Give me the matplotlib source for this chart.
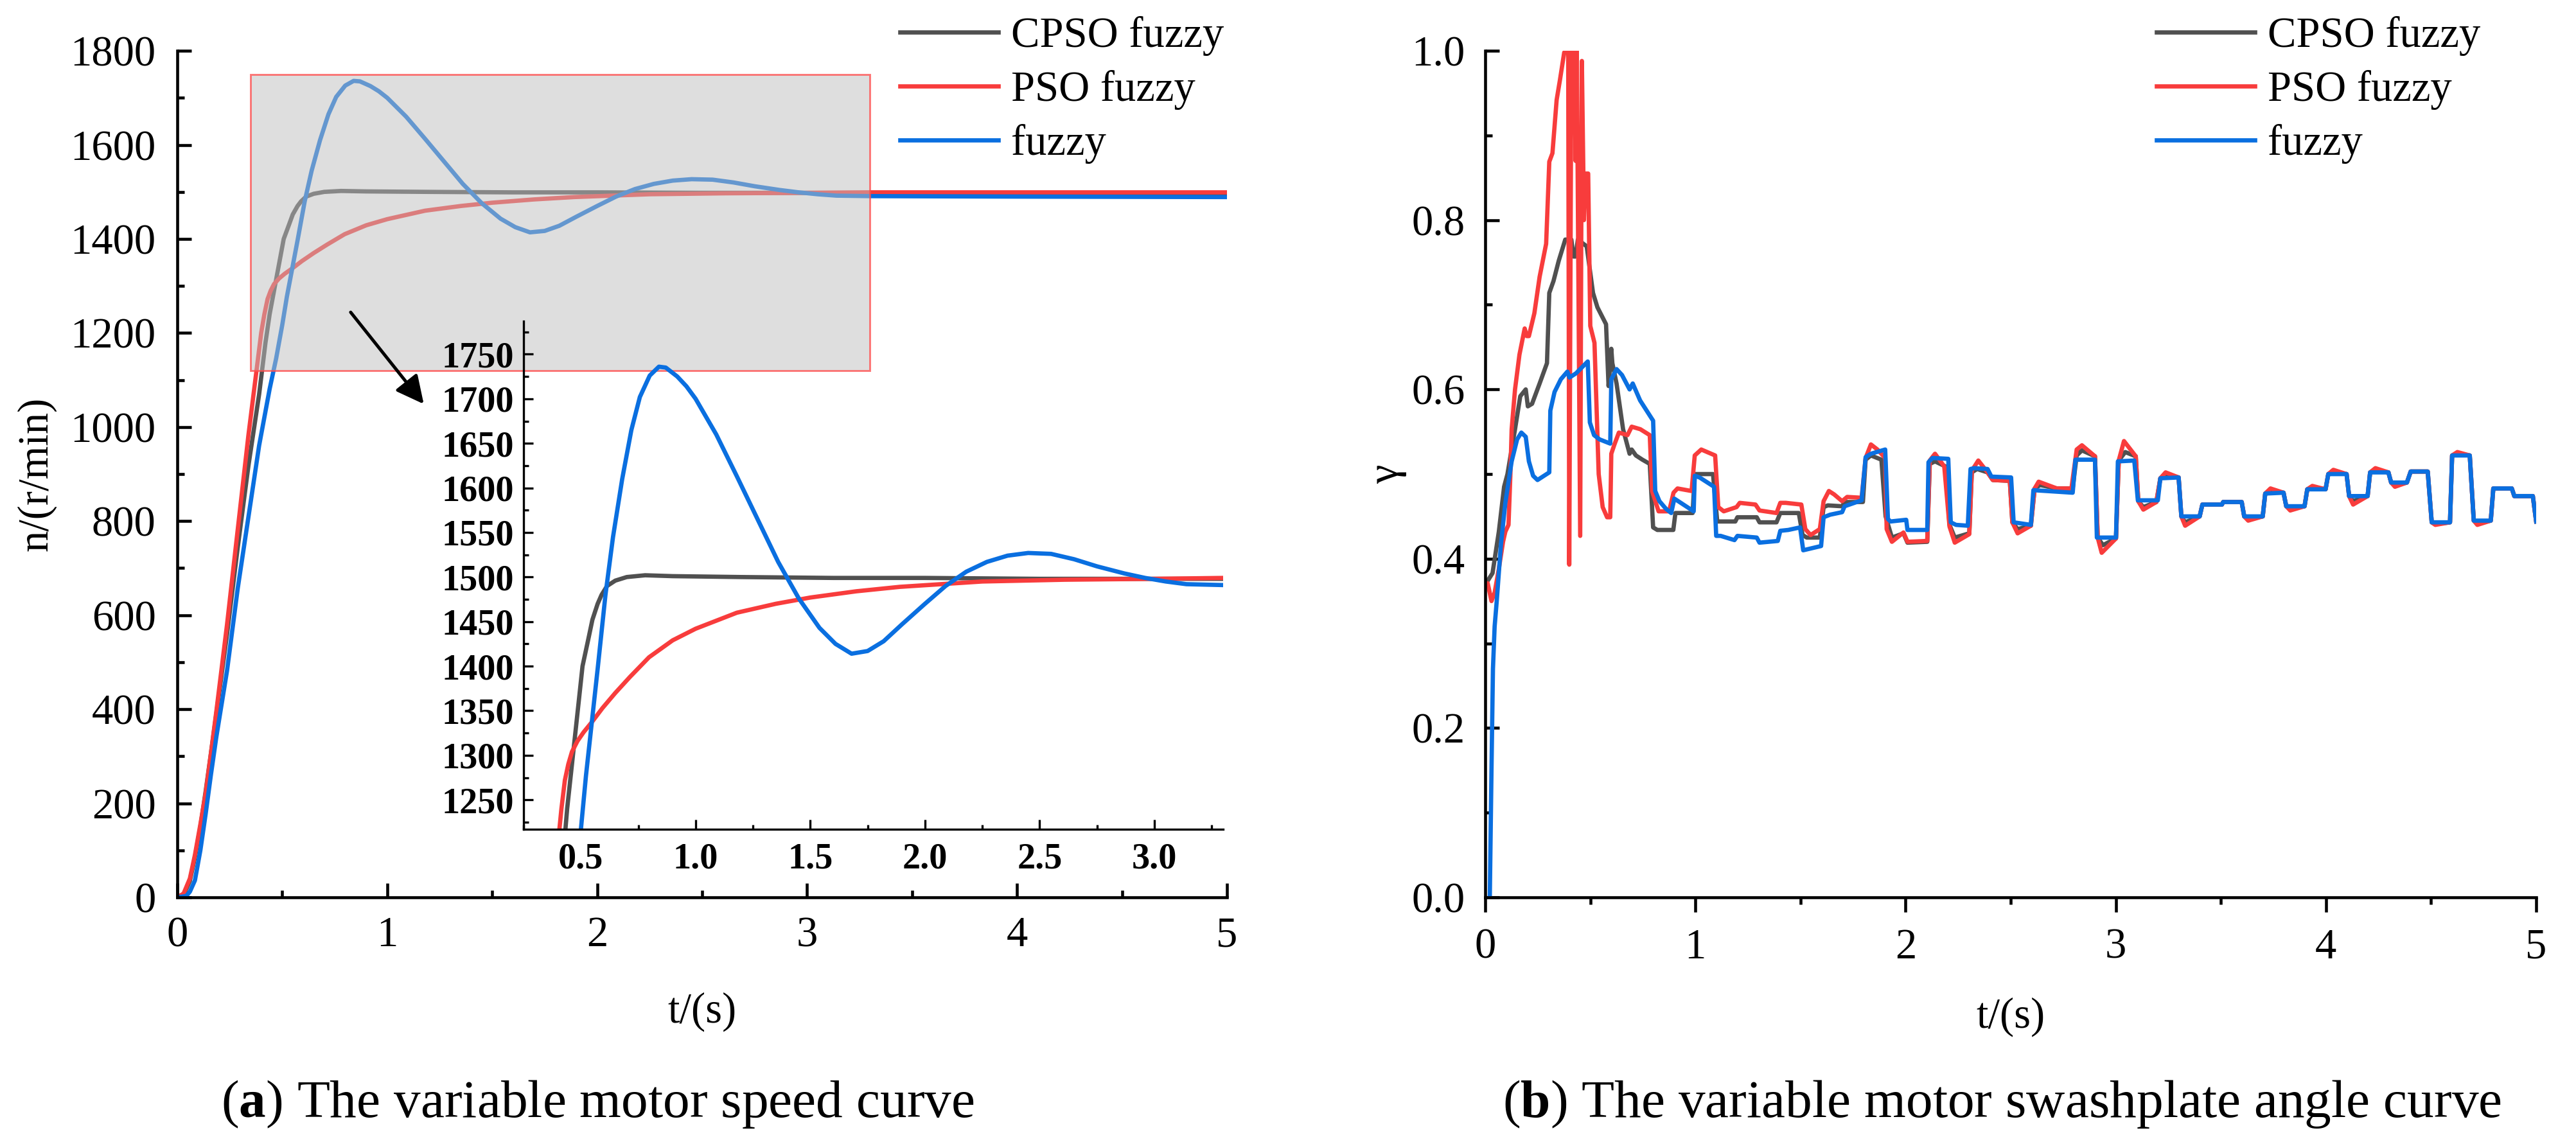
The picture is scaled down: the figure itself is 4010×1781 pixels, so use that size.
import numpy as np
import matplotlib

matplotlib.use("Agg")
import matplotlib.pyplot as plt
from matplotlib.patches import Rectangle
from matplotlib.ticker import MultipleLocator

plt.rcParams["font.family"] = ["Liberation Serif", "DejaVu Serif"]
plt.rcParams["mathtext.fontset"] = "custom"
plt.rcParams["mathtext.rm"] = "Liberation Serif"
plt.rcParams["mathtext.bf"] = "Liberation Serif:bold"

SERIES = ["CPSO fuzzy", "PSO fuzzy", "fuzzy"]
COLORS = ["#505050", "#f83c3c", "#0a6fe0"]

# (t [s], n [r/min])
SPEED_CPSO = [
    (0, 0), (0.03, 5), (0.06, 35), (0.084, 85), (0.11, 150), (0.135, 225),
    (0.16, 305), (0.186, 390), (0.237, 560), (0.288, 744), (0.339, 918),
    (0.39, 1070), (0.42, 1179), (0.44, 1240), (0.461, 1290), (0.492, 1364),
    (0.507, 1400), (0.532, 1430), (0.55, 1452), (0.573, 1470), (0.59, 1480),
    (0.614, 1490), (0.65, 1496), (0.7, 1500), (0.78, 1502), (0.9, 1501),
    (1.2, 1500), (1.6, 1499), (2.0, 1499), (2.5, 1498), (3.0, 1498),
    (3.3, 1498), (4.0, 1497), (5.0, 1496),
]
SPEED_PSO = [
    (0, 0), (0.03, 8), (0.06, 40), (0.084, 90), (0.11, 155), (0.135, 221),
    (0.16, 305), (0.186, 395), (0.237, 580), (0.288, 782), (0.339, 983),
    (0.374, 1108), (0.40, 1201), (0.415, 1240), (0.43, 1272), (0.445, 1290),
    (0.461, 1304), (0.485, 1316), (0.512, 1326), (0.55, 1338), (0.594, 1353),
    (0.65, 1370), (0.714, 1388), (0.797, 1410), (0.9, 1429), (1.0, 1442),
    (1.18, 1460), (1.35, 1470), (1.5, 1477), (1.7, 1484), (1.89, 1489),
    (2.25, 1495), (2.61, 1497), (3.0, 1498), (3.3, 1499), (4.0, 1499),
    (5.0, 1499),
]
SPEED_FUZZY = [
    (0, 0), (0.043, 3), (0.06, 12), (0.084, 36), (0.11, 100), (0.135, 177),
    (0.16, 260), (0.186, 341), (0.237, 482), (0.288, 657), (0.339, 809),
    (0.39, 961), (0.44, 1081), (0.471, 1146), (0.50, 1217), (0.522, 1277),
    (0.573, 1397), (0.607, 1480), (0.64, 1545), (0.68, 1610), (0.72, 1665),
    (0.757, 1702), (0.8, 1726), (0.84, 1736), (0.87, 1735), (0.92, 1725),
    (0.96, 1714), (1.0, 1700), (1.09, 1660), (1.18, 1613), (1.27, 1565),
    (1.36, 1517), (1.45, 1476), (1.54, 1443), (1.61, 1425), (1.68, 1414),
    (1.75, 1417), (1.82, 1428), (1.9, 1447), (2.0, 1470), (2.09, 1490),
    (2.18, 1506), (2.27, 1517), (2.36, 1524), (2.45, 1527), (2.55, 1526),
    (2.65, 1520), (2.75, 1512), (2.87, 1504), (2.96, 1499), (3.05, 1495),
    (3.14, 1492), (3.3, 1491), (4.0, 1490), (5.0, 1489),
]

# (t [s], gamma)
GAMMA_CPSO = [
    (0.005, 0.37), (0.012, 0.374), (0.035, 0.383), (0.065, 0.432),
    (0.09, 0.485), (0.106, 0.5), (0.142, 0.553), (0.167, 0.592),
    (0.193, 0.6), (0.203, 0.58), (0.223, 0.583), (0.259, 0.607),
    (0.294, 0.631), (0.305, 0.714), (0.325, 0.728), (0.35, 0.752),
    (0.381, 0.777), (0.41, 0.777), (0.42, 0.757), (0.43, 0.757),
    (0.441, 0.777), (0.483, 0.769), (0.513, 0.714), (0.534, 0.697),
    (0.575, 0.677), (0.587, 0.604), (0.6, 0.648), (0.605, 0.631),
    (0.625, 0.607), (0.656, 0.553), (0.687, 0.524), (0.697, 0.529),
    (0.717, 0.522), (0.748, 0.517), (0.783, 0.512), (0.799, 0.437),
    (0.819, 0.434), (0.895, 0.434), (0.905, 0.454), (0.987, 0.454),
    (0.997, 0.5), (1.084, 0.5), (1.104, 0.444), (1.19, 0.444),
    (1.2, 0.449), (1.292, 0.449), (1.305, 0.443), (1.386, 0.443),
    (1.404, 0.454), (1.492, 0.454), (1.51, 0.428), (1.53, 0.425),
    (1.592, 0.425), (1.61, 0.461), (1.63, 0.463), (1.698, 0.462),
    (1.71, 0.467), (1.797, 0.467), (1.81, 0.517), (1.835, 0.522),
    (1.885, 0.517), (1.905, 0.45), (1.935, 0.425), (1.99, 0.43),
    (2.009, 0.419), (2.103, 0.42), (2.115, 0.512), (2.14, 0.515),
    (2.19, 0.509), (2.209, 0.44), (2.234, 0.425), (2.303, 0.43),
    (2.315, 0.502), (2.34, 0.506), (2.39, 0.502), (2.415, 0.493),
    (2.496, 0.492), (2.508, 0.443), (2.533, 0.435), (2.596, 0.439),
    (2.614, 0.483), (2.64, 0.487), (2.72, 0.483), (2.795, 0.483),
    (2.814, 0.522), (2.839, 0.528), (2.901, 0.521), (2.914, 0.425),
    (2.939, 0.416), (3.001, 0.424), (3.014, 0.516), (3.045, 0.526),
    (3.095, 0.521), (3.107, 0.468), (3.131, 0.461), (3.193, 0.467),
    (3.212, 0.495), (3.237, 0.499), (3.299, 0.496), (3.312, 0.45),
    (3.33, 0.443), (3.399, 0.45), (3.412, 0.464), (3.505, 0.464),
    (3.511, 0.467), (3.599, 0.467), (3.611, 0.45), (3.63, 0.447),
    (3.699, 0.45), (3.711, 0.477), (3.736, 0.48), (3.798, 0.478),
    (3.811, 0.462), (3.83, 0.459), (3.898, 0.462), (3.911, 0.482),
    (3.935, 0.484), (3.998, 0.482), (4.011, 0.5), (4.035, 0.502),
    (4.098, 0.5), (4.11, 0.474), (4.129, 0.468), (4.198, 0.474),
    (4.21, 0.502), (4.235, 0.504), (4.297, 0.502), (4.31, 0.49),
    (4.328, 0.487), (4.385, 0.49), (4.403, 0.503), (4.484, 0.503),
    (4.503, 0.443), (4.52, 0.441), (4.59, 0.443), (4.6, 0.522),
    (4.625, 0.524), (4.684, 0.522), (4.703, 0.445), (4.72, 0.442),
    (4.784, 0.445), (4.796, 0.483), (4.884, 0.483), (4.896, 0.474),
    (4.984, 0.474), (5.0, 0.444),
]
GAMMA_PSO = [
    (0.005, 0.37), (0.012, 0.371), (0.03, 0.35), (0.045, 0.36),
    (0.065, 0.388), (0.085, 0.42), (0.096, 0.432), (0.111, 0.44),
    (0.12, 0.5), (0.126, 0.553), (0.142, 0.6), (0.163, 0.641),
    (0.188, 0.672), (0.198, 0.663), (0.208, 0.663), (0.234, 0.69),
    (0.259, 0.733), (0.29, 0.772), (0.305, 0.869), (0.32, 0.879),
    (0.34, 0.942), (0.356, 0.966), (0.376, 0.998), (0.386, 1.0),
    (0.395, 1.0), (0.40, 0.393), (0.41, 1.0), (0.425, 1.0),
    (0.43, 0.87), (0.436, 1.0), (0.452, 0.427), (0.46, 0.988),
    (0.47, 0.8), (0.477, 0.855), (0.49, 0.855), (0.5, 0.675),
    (0.52, 0.655), (0.54, 0.5), (0.559, 0.461), (0.58, 0.449),
    (0.595, 0.449), (0.6, 0.524), (0.615, 0.535), (0.636, 0.549),
    (0.677, 0.546), (0.697, 0.556), (0.738, 0.553), (0.783, 0.546),
    (0.794, 0.48), (0.825, 0.456), (0.875, 0.456), (0.896, 0.478),
    (0.915, 0.483), (0.982, 0.48), (0.997, 0.522), (1.028, 0.529),
    (1.094, 0.522), (1.109, 0.461), (1.135, 0.456), (1.196, 0.461),
    (1.211, 0.466), (1.286, 0.464), (1.305, 0.457), (1.386, 0.454),
    (1.404, 0.466), (1.43, 0.466), (1.504, 0.464), (1.523, 0.435),
    (1.548, 0.428), (1.592, 0.435), (1.61, 0.468), (1.635, 0.48),
    (1.66, 0.476), (1.698, 0.468), (1.722, 0.473), (1.791, 0.472),
    (1.81, 0.519), (1.835, 0.535), (1.866, 0.529), (1.903, 0.519),
    (1.91, 0.435), (1.935, 0.42), (1.99, 0.431), (2.009, 0.42),
    (2.103, 0.421), (2.115, 0.516), (2.14, 0.524), (2.184, 0.509),
    (2.209, 0.438), (2.234, 0.419), (2.303, 0.429), (2.315, 0.504),
    (2.346, 0.516), (2.39, 0.502), (2.415, 0.493), (2.496, 0.492),
    (2.508, 0.443), (2.533, 0.43), (2.596, 0.439), (2.614, 0.483),
    (2.633, 0.491), (2.72, 0.483), (2.789, 0.483), (2.814, 0.529),
    (2.839, 0.534), (2.901, 0.521), (2.914, 0.425), (2.933, 0.407),
    (3.001, 0.424), (3.014, 0.516), (3.039, 0.539), (3.095, 0.521),
    (3.107, 0.468), (3.131, 0.458), (3.193, 0.467), (3.212, 0.495),
    (3.237, 0.502), (3.299, 0.496), (3.312, 0.45), (3.33, 0.439),
    (3.399, 0.45), (3.412, 0.464), (3.505, 0.464), (3.511, 0.467),
    (3.599, 0.467), (3.611, 0.45), (3.63, 0.445), (3.699, 0.45),
    (3.711, 0.477), (3.736, 0.483), (3.798, 0.478), (3.811, 0.462),
    (3.83, 0.457), (3.898, 0.462), (3.911, 0.482), (3.935, 0.486),
    (3.998, 0.482), (4.011, 0.5), (4.035, 0.505), (4.098, 0.5),
    (4.11, 0.474), (4.129, 0.464), (4.198, 0.474), (4.21, 0.502),
    (4.235, 0.507), (4.297, 0.502), (4.31, 0.49), (4.328, 0.485),
    (4.385, 0.49), (4.403, 0.503), (4.484, 0.503), (4.503, 0.443),
    (4.52, 0.44), (4.59, 0.443), (4.6, 0.522), (4.625, 0.526),
    (4.684, 0.522), (4.703, 0.445), (4.72, 0.44), (4.784, 0.445),
    (4.796, 0.483), (4.884, 0.483), (4.896, 0.474), (4.984, 0.474),
    (5.0, 0.444),
]
GAMMA_FUZZY = [
    (0.022, 0.0), (0.03, 0.15), (0.037, 0.27), (0.045, 0.32),
    (0.055, 0.35), (0.075, 0.417), (0.096, 0.466), (0.126, 0.515),
    (0.152, 0.541), (0.172, 0.549), (0.193, 0.544), (0.208, 0.515),
    (0.228, 0.498), (0.249, 0.493), (0.305, 0.502), (0.31, 0.575),
    (0.33, 0.597), (0.36, 0.612), (0.391, 0.621), (0.401, 0.614),
    (0.432, 0.619), (0.488, 0.633), (0.498, 0.561), (0.518, 0.546),
    (0.544, 0.541), (0.595, 0.536), (0.6, 0.612), (0.625, 0.624),
    (0.651, 0.617), (0.687, 0.6), (0.702, 0.607), (0.737, 0.587),
    (0.799, 0.563), (0.809, 0.48), (0.829, 0.468), (0.86, 0.459),
    (0.885, 0.454), (0.9, 0.471), (0.992, 0.456), (0.997, 0.498),
    (1.02, 0.496), (1.089, 0.485), (1.099, 0.427), (1.12, 0.427),
    (1.186, 0.422), (1.2, 0.427), (1.292, 0.425), (1.305, 0.419),
    (1.392, 0.421), (1.404, 0.433), (1.442, 0.434), (1.498, 0.437),
    (1.513, 0.41), (1.598, 0.415), (1.61, 0.449), (1.641, 0.452),
    (1.698, 0.455), (1.71, 0.462), (1.791, 0.469), (1.81, 0.52),
    (1.835, 0.524), (1.903, 0.529), (1.916, 0.447), (1.928, 0.444),
    (2.003, 0.446), (2.009, 0.434), (2.103, 0.434), (2.109, 0.514),
    (2.128, 0.519), (2.203, 0.518), (2.215, 0.443), (2.24, 0.44),
    (2.296, 0.439), (2.309, 0.506), (2.327, 0.507), (2.39, 0.506),
    (2.408, 0.497), (2.502, 0.496), (2.514, 0.443), (2.596, 0.44),
    (2.608, 0.481), (2.795, 0.478), (2.808, 0.517), (2.901, 0.517),
    (2.91, 0.425), (3.001, 0.425), (3.01, 0.515), (3.088, 0.516),
    (3.105, 0.469), (3.2, 0.469), (3.212, 0.495), (3.299, 0.496),
    (3.312, 0.45), (3.399, 0.45), (3.412, 0.464), (3.505, 0.464),
    (3.511, 0.467), (3.599, 0.467), (3.611, 0.45), (3.699, 0.45),
    (3.711, 0.477), (3.798, 0.478), (3.811, 0.462), (3.898, 0.462),
    (3.911, 0.482), (3.998, 0.482), (4.011, 0.5), (4.098, 0.5),
    (4.11, 0.474), (4.198, 0.474), (4.21, 0.502), (4.297, 0.502),
    (4.31, 0.49), (4.385, 0.49), (4.403, 0.503), (4.484, 0.503),
    (4.503, 0.443), (4.59, 0.443), (4.6, 0.522), (4.684, 0.522),
    (4.703, 0.445), (4.784, 0.445), (4.796, 0.483), (4.884, 0.483),
    (4.896, 0.474), (4.984, 0.474), (5.0, 0.444),
]

SPEED = [SPEED_CPSO, SPEED_PSO, SPEED_FUZZY]
GAMMA = [GAMMA_CPSO, GAMMA_PSO, GAMMA_FUZZY]

# zoom box on panel (a): t range and speed range
ZOOM_T = (0.35, 3.3)
ZOOM_N = (1120, 1750)

LW = 1.6
TICK_FS = 16


def style_axes(ax, xdir="in", ydir="in"):
    for side in ("top", "right"):
        ax.spines[side].set_visible(False)
    for side in ("left", "bottom"):
        ax.spines[side].set_linewidth(1.1)
    ax.tick_params(axis="x", which="both", direction=xdir, width=1.1, labelsize=TICK_FS)
    ax.tick_params(axis="y", which="both", direction=ydir, width=1.1, labelsize=TICK_FS)
    ax.tick_params(which="major", length=5.2)
    ax.tick_params(which="minor", length=2.6)


fig = plt.figure(figsize=(4011 / 300, 1781 / 300), dpi=300)
fig.patch.set_facecolor("white")

# ---- (a) speed ----
ax1 = fig.add_axes([0.0688, 0.2156, 0.4074, 0.740])
for data, c, name in zip(SPEED, COLORS, SERIES):
    t, n = np.array(data).T
    ax1.plot(t, n, color=c, lw=LW, label=name, zorder=2)
ax1.set_xlim(0, 5)
ax1.set_ylim(0, 1800)
ax1.xaxis.set_major_locator(MultipleLocator(1))
ax1.xaxis.set_minor_locator(MultipleLocator(0.5))
ax1.yaxis.set_major_locator(MultipleLocator(200))
ax1.yaxis.set_minor_locator(MultipleLocator(100))
style_axes(ax1)
ax1.tick_params(axis="y", pad=8)
ax1.tick_params(axis="x", pad=7)
ax1.set_xlabel("t/(s)", fontsize=16, va="top")
ax1.xaxis.set_label_coords(0.5, -0.112)
ax1.set_ylabel("n/(r/min)", fontsize=16, va="center")
ax1.yaxis.set_label_coords(-0.134, 0.5)

rect = Rectangle(
    (ZOOM_T[0], ZOOM_N[0]), ZOOM_T[1] - ZOOM_T[0], ZOOM_N[1] - ZOOM_N[0],
    facecolor=(0.75, 0.75, 0.75, 0.5), edgecolor=(1.0, 0.3, 0.3, 0.75),
    lw=0.7, zorder=3,
)
ax1.add_patch(rect)
ax1.annotate(
    "", xy=(1.19, 1040), xytext=(0.81, 1253),
    arrowprops=dict(arrowstyle="-|>", color="black", lw=1.2, mutation_scale=22),
    zorder=4,
)

leg_kw = dict(
    loc="upper left", bbox_transform=fig.transFigure, frameon=False,
    fontsize=16, handlelength=2.3, handletextpad=0.3, labelspacing=0.33,
    borderpad=0, borderaxespad=0,
)
ax1.legend(bbox_to_anchor=(1401 / 4011, 0.986), **leg_kw)

# inset zoom
axi = fig.add_axes([0.2032, 0.2751, 0.2715, 0.4441])
axi.patch.set_visible(False)
for data, c in zip(SPEED, COLORS):
    t, n = np.array(data).T
    axi.plot(t, n, color=c, lw=LW)
axi.set_xlim(0.25, 3.3)
axi.set_ylim(1217, 1787)
axi.xaxis.set_major_locator(MultipleLocator(0.5))
axi.xaxis.set_minor_locator(MultipleLocator(0.25))
axi.yaxis.set_major_locator(MultipleLocator(50))
axi.yaxis.set_minor_locator(MultipleLocator(25))
for side in ("top", "right"):
    axi.spines[side].set_visible(False)
for side in ("left", "bottom"):
    axi.spines[side].set_linewidth(0.8)
axi.tick_params(which="both", direction="in", width=0.8, labelsize=13.5)
axi.tick_params(which="major", length=3.6)
axi.tick_params(which="minor", length=1.8)
axi.tick_params(axis="y", pad=3.5)
axi.tick_params(axis="x", pad=5)
axi.set_xticks([0.5, 1.0, 1.5, 2.0, 2.5, 3.0])
axi.set_xticklabels(["0.5", "1.0", "1.5", "2.0", "2.5", "3.0"])
for lab in axi.get_xticklabels() + axi.get_yticklabels():
    lab.set_fontweight("bold")

# ---- (b) swashplate angle ----
ax2 = fig.add_axes([0.5764, 0.2156, 0.4079, 0.740])
for data, c, name in zip(GAMMA, COLORS, SERIES):
    t, g = np.array(data).T
    ax2.plot(t, g, color=c, lw=LW, label=name)
ax2.set_xlim(0, 5)
ax2.set_ylim(0, 1.0)
ax2.xaxis.set_major_locator(MultipleLocator(1))
ax2.xaxis.set_minor_locator(MultipleLocator(0.5))
ax2.yaxis.set_major_locator(MultipleLocator(0.2))
ax2.yaxis.set_minor_locator(MultipleLocator(0.1))
ax2.yaxis.set_major_formatter(plt.FormatStrFormatter("%.1f"))
style_axes(ax2, xdir="out", ydir="in")
ax2.tick_params(axis="x", which="major", length=5.5)
ax2.tick_params(axis="y", pad=7.5)
ax2.tick_params(axis="x", pad=6)
ax2.set_xlabel("t/(s)", fontsize=16, va="top")
ax2.xaxis.set_label_coords(0.5, -0.118)
ax2.set_ylabel("γ", fontsize=16, va="center")
ax2.yaxis.set_label_coords(-0.093, 0.5)

ax2.legend(bbox_to_anchor=(3357 / 4011, 0.986), **leg_kw)

# captions
fig.text(0.232, 0.0236, r"($\mathbf{a}$) The variable motor speed curve",
         fontsize=20, ha="center", va="baseline")
fig.text(0.777, 0.0236, r"($\mathbf{b}$) The variable motor swashplate angle curve",
         fontsize=20, ha="center", va="baseline")

fig.savefig("out.png", dpi=300)
